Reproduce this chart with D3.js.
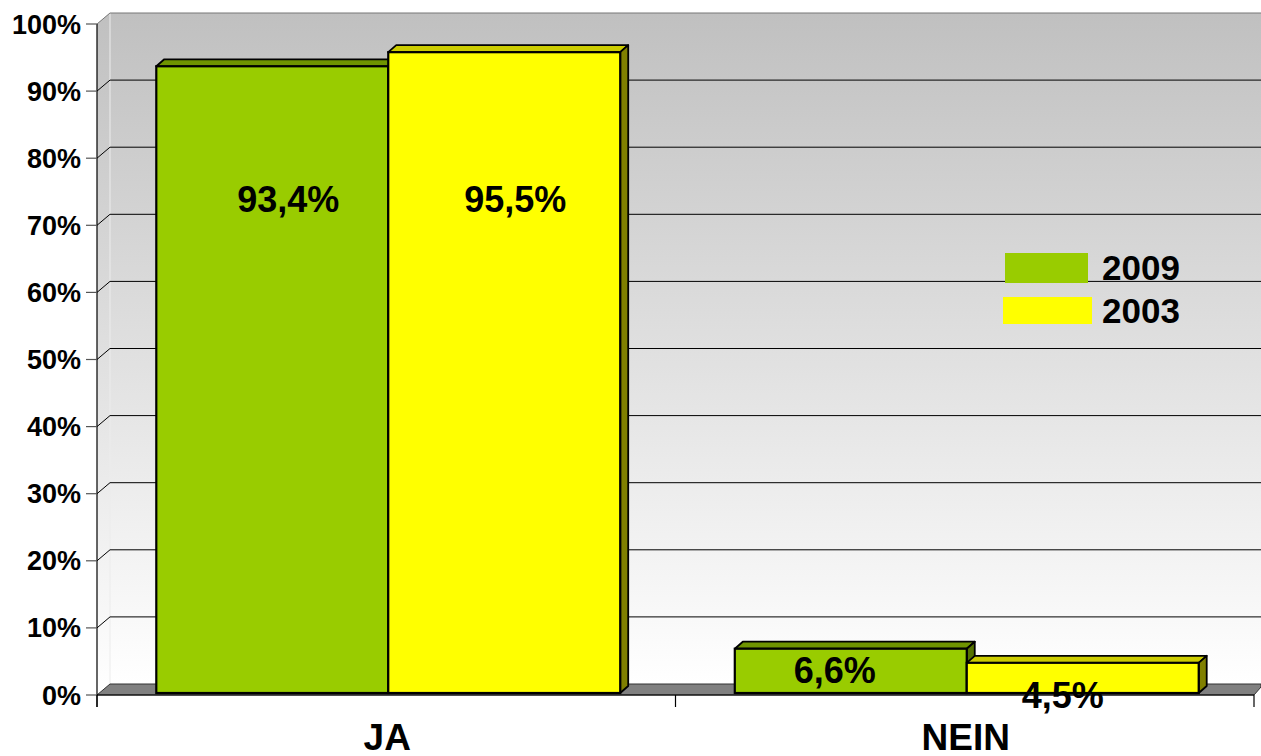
<!DOCTYPE html>
<html>
<head>
<meta charset="utf-8">
<script src="https://cdn.jsdelivr.net/npm/d3@7/dist/d3.min.js"></script>
<style>
  html, body { margin: 0; padding: 0; background: #ffffff; }
  svg { display: block; font-family: "Liberation Sans", Arial, sans-serif; }
</style>
</head>
<body>
<svg id="chart" width="1261" height="756"></svg>
<script>
// ---- data ----
const categories = ["JA", "NEIN"];
const seriesNames = ["2009", "2003"];
const values2009 = [0.934, 0.066];
const values2003 = [0.955, 0.045];
const labels2009 = ["93,4%", "6,6%"];
const labels2003 = ["95,5%", "4,5%"];
const yTicks = [0, 0.1, 0.2, 0.3, 0.4, 0.5, 0.6, 0.7, 0.8, 0.9, 1.0];
const yTickLabels = ["0%", "10%", "20%", "30%", "40%", "50%", "60%", "70%", "80%", "90%", "100%"];
const seriesColors = ["#99CC00", "#FFFF00"];
const topColors = ["#6f9400", "#cccc00"];
const sideColors = ["#557300", "#808000"];

// ---- layout ----
const svg = d3.select("#chart");
const pLeft = 97, pRight = 1254, pBottom = 695, pTop = 24;
const wallDx = 13, wallDy = -11;     // depth of back wall
const barDx = 8, barDy = -7;         // bar depth
const barOff = 2;                    // bar front plane offset

const y = d3.scaleLinear().domain([0, 1]).range([pBottom, pTop]);
const x0 = d3.scaleBand().domain(categories).range([pLeft, pRight]).padding(0);
const x1 = d3.scaleBand().domain(seriesNames).range([0, x0.bandwidth()])
  .paddingInner(0).paddingOuter(0.247);

// background gradient
const defs = svg.append("defs");
const grad = defs.append("linearGradient").attr("id", "wallGrad")
  .attr("x1", 0).attr("y1", 0).attr("x2", 0).attr("y2", 1);
grad.append("stop").attr("offset", "0%").attr("stop-color", "#c0c0c0");
grad.append("stop").attr("offset", "100%").attr("stop-color", "#ffffff");

// back wall
svg.append("rect")
  .attr("x", pLeft + wallDx).attr("y", pTop + wallDy)
  .attr("width", 1261 - (pLeft + wallDx)).attr("height", pBottom - pTop)
  .attr("fill", "url(#wallGrad)");
// side wall
svg.append("path")
  .attr("d", `M${pLeft},${pTop} L${pLeft + wallDx},${pTop + wallDy} L${pLeft + wallDx},${pBottom + wallDy} L${pLeft},${pBottom} Z`)
  .attr("fill", "url(#wallGrad)");
svg.append("line")
  .attr("x1", pLeft + wallDx).attr("x2", pLeft + wallDx)
  .attr("y1", pTop + wallDy).attr("y2", pBottom + wallDy)
  .attr("stroke", "#ececec").attr("stroke-width", 1);

// gridlines
const grid = svg.append("g");
yTicks.forEach((t) => {
  if (t === 0) return;
  const yy = y(t);
  grid.append("path")
    .attr("d", `M${pLeft},${yy} L${pLeft + wallDx},${yy + wallDy} L1261,${yy + wallDy}`)
    .attr("fill", "none")
    .attr("stroke", t === 1 ? "#777" : "#000")
    .attr("stroke-width", 1);
});

// floor
svg.append("path")
  .attr("d", `M${pLeft},${pBottom} L${pLeft + wallDx},${pBottom + wallDy} L1261,${pBottom + wallDy} L1261,${pBottom + wallDy + 3} L${pRight},${pBottom} Z`)
  .attr("fill", "#808080")
  .attr("stroke", "#333").attr("stroke-width", 1);

// y axis
svg.append("line").attr("x1", pLeft).attr("x2", pLeft)
  .attr("y1", pTop).attr("y2", pBottom + 12)
  .attr("stroke", "#000").attr("stroke-width", 1.2);
const yAxisG = svg.append("g");
yTicks.forEach((t, i) => {
  yAxisG.append("line").attr("x1", pLeft - 11).attr("x2", pLeft)
    .attr("y1", y(t)).attr("y2", y(t)).attr("stroke", "#555").attr("stroke-width", 1.2);
  yAxisG.append("text")
    .attr("x", pLeft - 16).attr("y", y(t) + 9.5)
    .attr("text-anchor", "end")
    .attr("font-size", 27).attr("font-weight", "bold")
    .text(yTickLabels[i]);
});

// x axis
svg.append("line").attr("x1", pLeft).attr("x2", pRight)
  .attr("y1", pBottom).attr("y2", pBottom)
  .attr("stroke", "#000").attr("stroke-width", 1.2);
[pLeft, pLeft + x0.bandwidth(), pRight].forEach(xx => {
  svg.append("line").attr("x1", xx).attr("x2", xx)
    .attr("y1", pBottom).attr("y2", pBottom + 12)
    .attr("stroke", "#000").attr("stroke-width", 1.2);
});
categories.forEach(c => {
  svg.append("text")
    .attr("x", x0(c) + x0.bandwidth() / 2 + 1)
    .attr("y", 750)
    .attr("text-anchor", "middle")
    .attr("font-size", 37).attr("font-weight", "bold")
    .text(c);
});

// bars
const allValues = [values2009, values2003];
const allLabels = [labels2009, labels2003];
const barsG = svg.append("g");
categories.forEach((c, ci) => {
  seriesNames.forEach((s, si) => {
    const v = allValues[si][ci];
    const bx = x0(c) + x1(s) + barOff;
    const bw = x1.bandwidth();
    const by = y(v) - barOff;
    const bb = y(0) - barOff;
    // top face
    barsG.append("path")
      .attr("d", `M${bx},${by} L${bx + barDx},${by + barDy} L${bx + bw + barDx},${by + barDy} L${bx + bw},${by} Z`)
      .attr("fill", topColors[si]).attr("stroke", "#000").attr("stroke-width", 1.8)
      .attr("stroke-linejoin", "round");
    // side face
    barsG.append("path")
      .attr("d", `M${bx + bw},${by} L${bx + bw + barDx},${by + barDy} L${bx + bw + barDx},${bb + barDy} L${bx + bw},${bb} Z`)
      .attr("fill", sideColors[si]).attr("stroke", "#000").attr("stroke-width", 1.8)
      .attr("stroke-linejoin", "round");
    // front
    barsG.append("rect")
      .attr("x", bx).attr("y", by).attr("width", bw).attr("height", bb - by)
      .attr("fill", seriesColors[si]).attr("stroke", "#000").attr("stroke-width", 2.2);
  });
});

// data labels (positions tuned to the reference)
const labelDx = [[16, 11], [-16, -20]];
const labelBaseline = [[0.72, 0.72], [0.018, -0.019]];
categories.forEach((c, ci) => {
  seriesNames.forEach((s, si) => {
    svg.append("text")
      .attr("x", x0(c) + x1(s) + x1.bandwidth() / 2 + barOff + labelDx[ci][si])
      .attr("y", y(labelBaseline[ci][si]))
      .attr("text-anchor", "middle")
      .attr("font-size", 36).attr("font-weight", "bold")
      .text(allLabels[si][ci]);
  });
});

// legend
const legend = svg.append("g");
const legRects = [[1005, 253, 83, 30], [1003, 297, 89, 27]];
seriesNames.forEach((s, i) => {
  legend.append("rect")
    .attr("x", legRects[i][0]).attr("y", legRects[i][1])
    .attr("width", legRects[i][2]).attr("height", legRects[i][3])
    .attr("fill", seriesColors[i]);
  legend.append("text")
    .attr("x", 1102).attr("y", 280 + i * 43)
    .attr("font-size", 35).attr("font-weight", "bold")
    .text(s);
});
</script>
</body>
</html>
